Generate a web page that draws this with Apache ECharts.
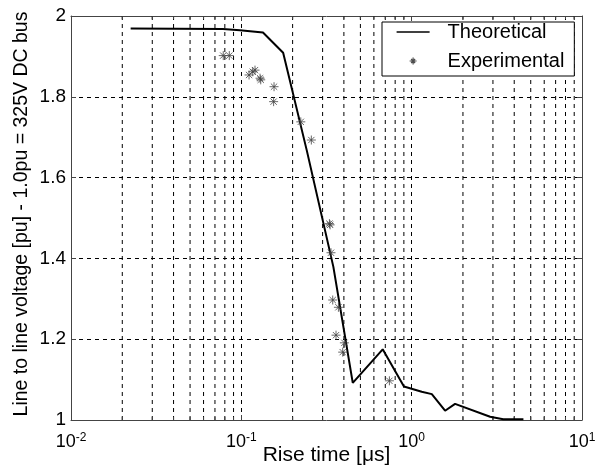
<!DOCTYPE html>
<html><head><meta charset="utf-8">
<script src="https://cdn.jsdelivr.net/npm/echarts@6/dist/echarts.min.js"></script>
<style>html,body{margin:0;padding:0;background:#fff}#c{width:600px;height:472px}</style>
</head><body><div id="c"></div>
<script>
// Theoretical curve: [rise time (µs), voltage (pu)]
const theoX = [0.0224, 0.078, 0.098, 0.134, 0.176, 0.242, 0.347, 0.451, 0.676, 0.901, 1.146, 1.313, 1.571, 1.798, 2.887, 3.45, 4.53];
const theoY = [1.969, 1.968, 1.965, 1.959, 1.909, 1.668, 1.379, 1.092, 1.175, 1.083, 1.070, 1.064, 1.023, 1.040, 1.008, 1.002, 1.002];
// Experimental points
const expX = [0.0783, 0.085, 0.111, 0.1167, 0.1203, 0.1288, 0.130, 0.1556, 0.1547, 0.2234, 0.2576, 0.332, 0.329, 0.336, 0.344, 0.3715, 0.3597, 0.4027, 0.3936, 0.74];
const expY = [1.902, 1.902, 1.854, 1.862, 1.866, 1.846, 1.842, 1.825, 1.788, 1.738, 1.693, 1.483, 1.486, 1.414, 1.297, 1.279, 1.210, 1.191, 1.168, 1.097];
// Minor grid values of the log axis
const minorX = [0.02,0.03,0.04,0.05,0.06,0.07,0.08,0.09,0.2,0.3,0.4,0.5,0.6,0.7,0.8,0.9,2,3,4,5,6,7,8,9];
const seriesNames = ['Theoretical', 'Experimental'];

const FONT = "'Liberation Sans', Arial, sans-serif";
const star = 'path://M0,-10L0,10M-10,0L10,0M-7,-7L7,7M-7,7L7,-7';
const legendStar = 'path://M-16.5,-9M16.5,9M0,-3.5L0,3.5M-3.5,0L3.5,0M-2,-2L2,2M-2,2L2,-2';
const legendLine = 'path://M0,0H33V1.6H0Z';

const chart = echarts.init(document.getElementById('c'), null, {renderer: 'canvas'});
const gridLine = {show: true, lineStyle: {color: '#000', type: [4, 4], width: 1}};
const frame = {show: true, lineStyle: {color: '#444', width: 1}};
chart.setOption({
  animation: false,
  backgroundColor: '#fff',
  textStyle: {fontFamily: FONT},
  grid: {left: 71, right: 18, top: 16, bottom: 52, containLabel: false, outerBoundsMode: 'none'},
  legend: {
    data: [
      {name: seriesNames[0], icon: legendLine, itemStyle: {color: '#000'}},
      {name: seriesNames[1], icon: legendStar, itemStyle: {color: 'rgba(0,0,0,0)', borderColor: '#222', borderWidth: 1.2}}
    ],
    orient: 'vertical', left: 382, top: 22,
    backgroundColor: '#fff', borderColor: '#000', borderWidth: 1,
    padding: [0, 10, 5, 14], itemGap: 9,
    itemWidth: 33, itemHeight: 18,
    textStyle: {fontSize: 20, color: '#000', fontFamily: FONT, lineHeight: 18, padding: [0, 0, 0, 13]}
  },
  xAxis: [{
    type: 'log', logBase: 10, min: 0.01, max: 10,
    name: 'Rise time [\u03bcs]', nameLocation: 'middle', nameGap: 25, nameMoveOverlap: false,
    nameTextStyle: {fontSize: 21, color: '#000', fontFamily: FONT},
    axisLine: frame,
    axisTick: {show: true, inside: true, length: 5, lineStyle: {color: '#444'}},
    splitLine: gridLine,
    axisLabel: {
      color: '#000', margin: 12,
      formatter: v => '{b|10}{s|' + Math.round(Math.log10(v)) + '}',
      rich: {
        b: {fontSize: 18, fontFamily: FONT, color: '#000'},
        s: {fontSize: 12, fontFamily: FONT, color: '#000', verticalAlign: 'top', padding: [0, 0, 8, 0]}
      }
    }
  }, {
    type: 'log', logBase: 10, min: 0.01, max: 10, position: 'top',
    axisLine: frame,
    axisTick: {show: true, inside: true, length: 5, lineStyle: {color: '#444'}},
    axisLabel: {show: false}, splitLine: {show: false}
  }],
  yAxis: [{
    type: 'value', min: 1, max: 2, interval: 0.2,
    name: 'Line to line voltage [pu] - 1.0pu = 325V DC bus', nameLocation: 'middle', nameGap: 39, nameMoveOverlap: false,
    nameTextStyle: {fontSize: 19.5, color: '#000', fontFamily: FONT, padding: [0, 0, 0, 8]},
    axisLine: frame,
    axisTick: {show: true, inside: true, length: 5, lineStyle: {color: '#444'}},
    splitLine: gridLine,
    axisLabel: {color: '#000', fontSize: 19, margin: 5, fontFamily: FONT}
  }, {
    type: 'value', min: 1, max: 2, interval: 0.2, position: 'right',
    axisLine: frame,
    axisTick: {show: true, inside: true, length: 5, lineStyle: {color: '#444'}},
    axisLabel: {show: false}, splitLine: {show: false}
  }],
  series: [
    {
      type: 'custom', name: 'minorGrid', silent: true, z: 1,
      xAxisIndex: 0, yAxisIndex: 0,
      data: minorX.map(v => [v]),
      encode: {x: 0},
      renderItem: function (params, api) {
        const v = api.value(0);
        const p0 = api.coord([v, 1]);
        const p1 = api.coord([v, 2]);
        return {type: 'group', children: [
          {type: 'line', shape: {x1: p0[0], y1: p0[1], x2: p1[0], y2: p1[1]}, style: {stroke: '#000', lineDash: [4, 4], lineWidth: 1}},
          {type: 'line', shape: {x1: p0[0], y1: p0[1], x2: p0[0], y2: p0[1] - 3}, style: {stroke: '#444', lineWidth: 1}},
          {type: 'line', shape: {x1: p1[0], y1: p1[1], x2: p1[0], y2: p1[1] + 3}, style: {stroke: '#444', lineWidth: 1}}
        ]};
      }
    },
    {
      type: 'line', name: seriesNames[0], z: 5,
      data: theoX.map((x, i) => [x, theoY[i]]),
      showSymbol: false, symbol: 'none',
      lineStyle: {color: '#000', width: 2},
      itemStyle: {color: '#000'}
    },
    {
      type: 'scatter', name: seriesNames[1], z: 6,
      data: expX.map((x, i) => [x, expY[i]]),
      symbol: star, symbolSize: 9,
      itemStyle: {color: 'rgba(0,0,0,0)', borderColor: '#444', borderWidth: 1}
    }
  ]
});
</script></body></html>
